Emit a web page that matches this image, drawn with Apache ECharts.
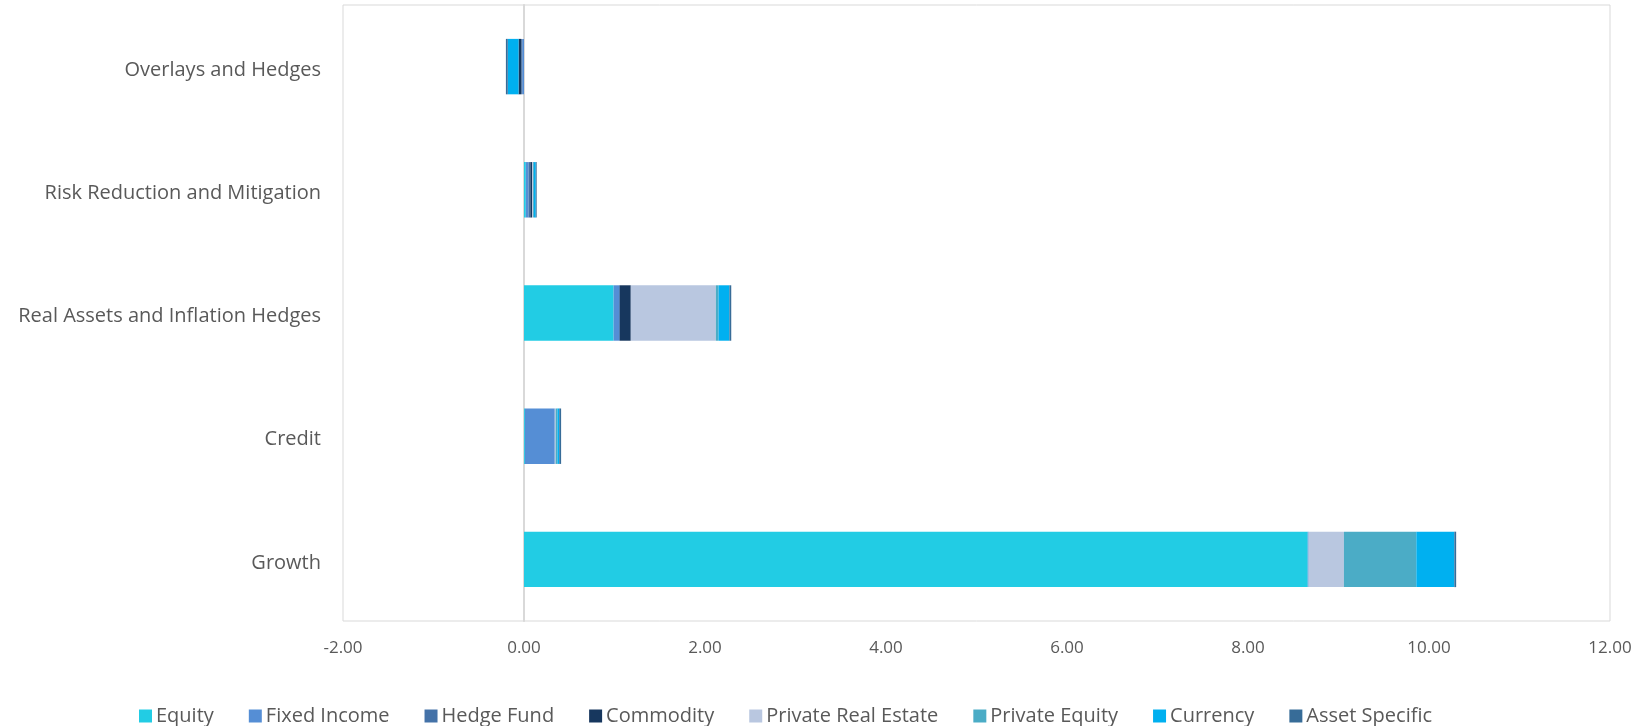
<!DOCTYPE html>
<html>
<head>
<meta charset="utf-8">
<script src="https://cdn.jsdelivr.net/npm/echarts@6/dist/echarts.min.js"></script>
<style>
  html, body { margin: 0; padding: 0; background: #ffffff; }
  #chart { width: 1647px; height: 726px; }
</style>
</head>
<body>
<div id="chart"></div>
<script>
// Strategy groups, bottom to top on the category axis
const categories = ['Growth', 'Credit', 'Real Assets and Inflation Hedges', 'Risk Reduction and Mitigation', 'Overlays and Hedges'];

// Contribution by asset class, one value per category (same order as above)
const equity            = [8.66, 0.01, 0.99, 0.02, 0.00];
const fixedIncome       = [0.01, 0.33, 0.06, 0.03, -0.02];
const hedgeFund         = [0.00, 0.00, 0.01, 0.02, -0.01];
const commodity         = [0.00, 0.00, 0.12, 0.02, -0.03];
const privateRealEstate = [0.39, 0.01, 0.94, 0.01, 0.00];
const privateEquity     = [0.80, 0.02, 0.03, 0.01, 0.00];
const currency          = [0.42, 0.02, 0.12, 0.02, -0.12];
const assetSpecific     = [0.02, 0.02, 0.02, 0.01, -0.02];

const xTicks = { min: -2, max: 12, interval: 2 };

const seriesDefs = [
  { name: 'Equity', data: equity, color: '#22cce4' },
  { name: 'Fixed Income', data: fixedIncome, color: '#558ed5' },
  { name: 'Hedge Fund', data: hedgeFund, color: '#4472a8' },
  { name: 'Commodity', data: commodity, color: '#17375e' },
  { name: 'Private Real Estate', data: privateRealEstate, color: '#b9c7e0' },
  { name: 'Private Equity', data: privateEquity, color: '#4bacc6' },
  { name: 'Currency', data: currency, color: '#00b0f0' },
  { name: 'Asset Specific', data: assetSpecific, color: '#376c98' }
];

const textColor = '#595959';
const fontFamily = '"Open Sans", "Noto Sans", "DejaVu Sans", sans-serif';

const chart = echarts.init(document.getElementById('chart'));
chart.setOption({
  animation: false,
  textStyle: { fontFamily: fontFamily },
  grid: {
    left: 343, right: 37, top: 5, bottom: 105,
    show: true, borderColor: '#d9d9d9', borderWidth: 1,
    containLabel: false
  },
  legend: {
    top: 701,
    left: 134,
    itemWidth: 13,
    itemHeight: 13,
    itemGap: 35,
    icon: 'rect',
    textStyle: { color: textColor, fontSize: 20, fontFamily: fontFamily, padding: [0, 0, 0, -1] },
    data: seriesDefs.map(s => s.name)
  },
  xAxis: {
    type: 'value',
    min: xTicks.min,
    max: xTicks.max,
    interval: xTicks.interval,
    axisLine: { show: false },
    axisTick: { show: false },
    splitLine: { show: false },
    axisLabel: {
      color: textColor, fontSize: 17, margin: 19,
      formatter: v => v.toFixed(2)
    }
  },
  yAxis: {
    type: 'category',
    data: categories,
    axisLine: { show: true, onZero: true, lineStyle: { color: '#d9d9d9', width: 2 } },
    axisTick: { show: false },
    axisLabel: {
      margin: 22,
      formatter: v => '{c|' + v + '}',
      rich: { c: { color: textColor, fontSize: 20, fontFamily: fontFamily, padding: [7, 0, 0, 0] } }
    }
  },
  series: seriesDefs.map(s => ({
    name: s.name,
    type: 'bar',
    stack: 'total',
    barWidth: '45%',
    data: s.data,
    itemStyle: { color: s.color },
    emphasis: { disabled: true }
  }))
});
</script>
</body>
</html>
